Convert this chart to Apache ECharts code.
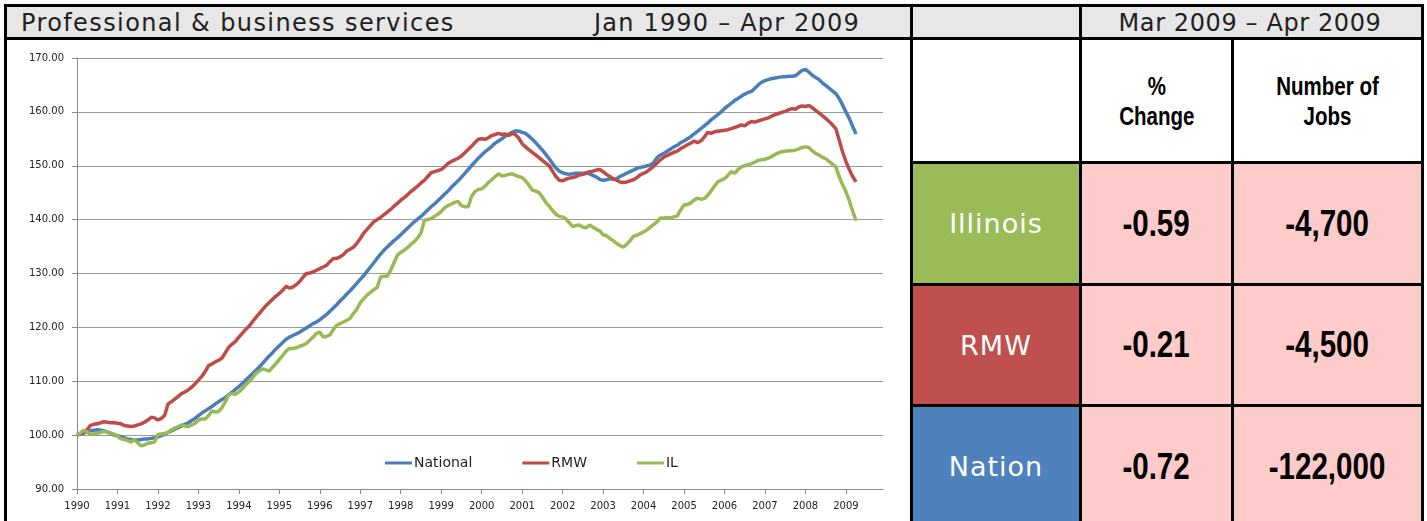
<!DOCTYPE html>
<html>
<head>
<meta charset="utf-8">
<script src="https://cdn.jsdelivr.net/npm/echarts@6/dist/echarts.min.js"></script>
<style>
  html, body { margin: 0; padding: 0; background: #fff; }
  body { width: 1427px; height: 521px; position: relative; overflow: hidden; font-family: "DejaVu Sans", Verdana, sans-serif; }
  .abs { position: absolute; box-sizing: border-box; }
  .frame { left: 4px; top: 4px; width: 1420px; height: 560px; border: 3px solid #000; }
  .hdr { background: #e7e7e7; top: 7px; height: 30px; }
  .hline { background: #000; height: 3px; }
  .vline { background: #000; width: 3px; }
  .htxt { font-size: 24px; letter-spacing: 1.4px; color: #222; line-height: 30px; top: 8px; white-space: nowrap; }
  .cell { display: flex; align-items: center; justify-content: center; text-align: center; }
  .lab { color: #fff; font-size: 27px; letter-spacing: 1px; }
  .num { font-family: "Liberation Sans Narrow", "Liberation Sans", sans-serif; font-weight: bold; font-size: 36px; color: #000; background: #fecbcb; }
  .colh { font-family: "Liberation Sans Narrow", "Liberation Sans", sans-serif; font-weight: bold; font-size: 25px; line-height: 30px; color: #000; }
  .narrow { display: inline-block; transform: scaleX(0.82); white-space: nowrap; }
  #chart { left: 7px; top: 40px; width: 903px; height: 481px; }
</style>
</head>
<body>
<div class="abs hdr" style="left:7px;width:903px"></div>
<div class="abs hdr" style="left:913px;width:508px"></div>
<div class="abs htxt" style="left:21px">Professional &amp; business services</div>
<div class="abs htxt" style="left:560px;width:300px;text-align:right;letter-spacing:1.2px">Jan 1990 – Apr 2009</div>
<div class="abs htxt" style="left:1082px;width:336px;text-align:center;letter-spacing:0.6px">Mar 2009 – Apr 2009</div>

<div class="abs cell colh" style="left:1082px;top:40px;width:149px;height:121px"><span class="narrow">%<br>Change</span></div>
<div class="abs cell colh" style="left:1234px;top:40px;width:187px;height:121px"><span class="narrow">Number of<br>Jobs</span></div>

<div class="abs cell lab" style="left:913px;top:164px;width:166px;height:119px;background:#9bbb59">Illinois</div>
<div class="abs cell num" style="left:1082px;top:164px;width:149px;height:119px"><span class="narrow">-0.59</span></div>
<div class="abs cell num" style="left:1234px;top:164px;width:187px;height:119px"><span class="narrow">-4,700</span></div>

<div class="abs cell lab" style="left:913px;top:286px;width:166px;height:118px;background:#c0504d">RMW</div>
<div class="abs cell num" style="left:1082px;top:286px;width:149px;height:118px"><span class="narrow">-0.21</span></div>
<div class="abs cell num" style="left:1234px;top:286px;width:187px;height:118px"><span class="narrow">-4,500</span></div>

<div class="abs cell lab" style="left:913px;top:407px;width:166px;height:119px;background:#4f81bd">Nation</div>
<div class="abs cell num" style="left:1082px;top:407px;width:149px;height:119px"><span class="narrow">-0.72</span></div>
<div class="abs cell num" style="left:1234px;top:407px;width:187px;height:119px"><span class="narrow">-122,000</span></div>

<div class="abs hline" style="left:4px;top:37px;width:1420px"></div>
<div class="abs hline" style="left:910px;top:161px;width:514px"></div>
<div class="abs hline" style="left:910px;top:283px;width:514px"></div>
<div class="abs hline" style="left:910px;top:404px;width:514px"></div>
<div class="abs vline" style="left:910px;top:4px;height:530px"></div>
<div class="abs vline" style="left:1079px;top:4px;height:530px"></div>
<div class="abs vline" style="left:1231px;top:37px;height:500px"></div>
<div class="abs frame"></div>

<div id="chart" class="abs"></div>

<script>
// 月度指数 1990 年 1 月 = 100,读图估计
const years = ['1990','1991','1992','1993','1994','1995','1996','1997','1998','1999',
  '2000','2001','2002','2003','2004','2005','2006','2007','2008','2009'];
const monthNames = ['Jan','Feb','Mar','Apr','May','Jun','Jul','Aug','Sep','Oct','Nov','Dec'];

const national = [
  100.0, 100.2, 100.4, 100.6, 100.8, 100.9, 101.0, 100.9, 100.8, 100.6, 100.3, 100.0,
  99.9, 99.7, 99.5, 99.3, 99.2, 99.1, 99.1, 99.2, 99.3, 99.3, 99.4, 99.5,
  99.7, 99.9, 100.2, 100.5, 100.8, 101.1, 101.4, 101.7, 102.0, 102.3, 102.7, 103.1,
  103.6, 104.1, 104.5, 104.9, 105.3, 105.8, 106.2, 106.6, 107.0, 107.5, 108.0, 108.5,
  109.0, 109.6, 110.2, 110.8, 111.4, 112.0, 112.6, 113.3, 114.0, 114.7, 115.3, 116.0,
  116.6, 117.2, 117.8, 118.2, 118.5, 118.8, 119.1, 119.5, 119.9, 120.3, 120.7, 121.0,
  121.4, 121.9, 122.4, 123.0, 123.6, 124.2, 124.9, 125.5, 126.2, 126.8, 127.5, 128.2,
  128.9, 129.6, 130.4, 131.2, 132.0, 132.8, 133.6, 134.3, 134.9, 135.5, 136.1, 136.6,
  137.2, 137.8, 138.4, 139.0, 139.6, 140.1, 140.6, 141.2, 141.8, 142.4, 142.9, 143.5,
  144.1, 144.7, 145.3, 146.0, 146.6, 147.2, 147.9, 148.6, 149.3, 150.0, 150.7, 151.4,
  152.0, 152.6, 153.1, 153.6, 154.2, 154.6, 155.0, 155.5, 155.9, 156.2, 156.5, 156.4,
  156.2, 156.0, 155.5, 154.9, 154.3, 153.6, 152.9, 152.1, 151.3, 150.4, 149.6, 149.0,
  148.7, 148.5, 148.4, 148.5, 148.6, 148.6, 148.6, 148.7, 148.5, 148.2, 147.9, 147.5,
  147.3, 147.4, 147.6, 147.5, 147.6, 148.0, 148.3, 148.6, 148.9, 149.2, 149.5, 149.7,
  149.8, 150.0, 150.1, 150.6, 151.5, 152.0, 152.3, 152.7, 153.1, 153.5, 153.8, 154.3,
  154.6, 155.0, 155.4, 155.9, 156.4, 156.9, 157.4, 157.9, 158.5, 159.0, 159.5, 160.0,
  160.6, 161.1, 161.6, 162.1, 162.5, 162.9, 163.3, 163.6, 163.8, 164.4, 165.0, 165.5,
  165.8, 166.0, 166.2, 166.3, 166.4, 166.5, 166.5, 166.6, 166.6, 166.7, 167.2, 167.7,
  167.9, 167.4, 166.8, 166.4, 166.0, 165.4, 164.9, 164.4, 163.9, 163.4, 162.5, 161.3,
  160.0, 158.8, 157.3, 155.9
];

const rmw = [
  100.0, 100.3, 100.5, 101.0, 101.8, 102.0, 102.1, 102.3, 102.5, 102.4, 102.3, 102.3,
  102.2, 102.1, 101.8, 101.7, 101.6, 101.7, 101.9, 102.1, 102.4, 102.8, 103.3, 103.2,
  102.8, 103.1, 103.7, 105.8, 106.2, 106.7, 107.2, 107.7, 108.0, 108.4, 108.9, 109.5,
  110.2, 110.9, 111.8, 112.9, 113.2, 113.6, 113.9, 114.3, 115.3, 116.3, 116.9, 117.4,
  118.2, 118.9, 119.6, 120.2, 121.0, 121.8, 122.5, 123.3, 124.0, 124.6, 125.2, 125.8,
  126.3, 126.9, 127.6, 127.3, 127.5, 127.9, 128.5, 129.3, 130.0, 130.1, 130.3, 130.6,
  130.9, 131.2, 131.5, 132.2, 132.8, 132.8, 133.1, 133.5, 134.2, 134.5, 134.9, 135.6,
  136.5, 137.5, 138.2, 138.9, 139.6, 140.0, 140.4, 140.9, 141.4, 141.9, 142.5, 143.0,
  143.6, 144.1, 144.6, 145.2, 145.7, 146.2, 146.8, 147.3, 148.0, 148.7, 148.9, 149.1,
  149.3, 149.8, 150.4, 150.8, 151.1, 151.4, 151.8, 152.4, 153.0, 153.6, 154.3, 154.9,
  155.0, 154.9, 155.2, 155.6, 155.8, 156.0, 155.8, 155.9, 155.6, 156.0, 155.8, 155.1,
  154.1, 153.5, 153.0, 152.5, 152.0, 151.5, 151.0, 150.5, 150.0, 149.0, 148.0, 147.3,
  147.2, 147.5, 147.7, 147.8, 148.0, 148.3, 148.4, 148.6, 148.9, 149.0, 149.2, 149.3,
  148.9, 148.4, 148.0, 147.6, 147.3, 147.0, 146.9, 147.0, 147.2, 147.4, 147.8, 148.3,
  148.6, 148.9, 149.4, 149.9, 150.5, 151.1, 151.6, 151.9, 152.2, 152.5, 152.7, 153.2,
  153.5, 153.9, 154.2, 154.6, 154.3, 154.6, 155.3, 156.2, 156.0, 156.3, 156.4, 156.5,
  156.6, 156.7, 156.9, 157.1, 157.3, 157.6, 157.4, 157.9, 158.2, 158.1, 158.3, 158.5,
  158.7, 158.9, 159.2, 159.5, 159.7, 159.9, 160.1, 160.4, 160.6, 160.5, 160.9, 161.1,
  161.0, 161.2, 160.8, 160.3, 159.8, 159.3, 158.8, 158.2, 157.6, 156.9, 154.8, 152.6,
  150.8, 149.3, 148.0, 147.0
];

const il = [
  100.0, 100.4, 100.9, 100.6, 100.1, 100.2, 100.3, 100.5, 100.7, 100.5, 100.4, 100.2,
  99.8, 99.3, 99.2, 99.0, 98.7, 99.2, 98.6, 98.0, 98.2, 98.5, 98.6, 98.7,
  100.1, 100.2, 100.3, 100.5, 101.0, 101.3, 101.6, 101.9, 101.7, 101.6, 101.9, 102.2,
  102.8, 103.0, 103.0, 103.6, 104.5, 104.3, 104.4, 105.1, 106.2, 107.6, 107.7, 107.6,
  108.0, 108.6, 109.3, 109.9, 110.6, 111.4, 111.9, 112.3, 112.1, 111.9, 112.6, 113.3,
  114.0, 114.8, 115.6, 116.1, 116.1, 116.2, 116.5, 116.7, 117.0, 117.6, 118.2, 118.9,
  119.1, 118.2, 118.3, 118.6, 119.6, 120.4, 120.7, 121.0, 121.3, 121.7, 122.6, 123.4,
  124.6, 125.3, 126.0, 126.5, 127.0, 127.4, 129.3, 129.5, 129.5, 130.6, 132.0, 133.4,
  133.9, 134.3, 134.8, 135.4, 135.9, 136.6, 137.5, 139.9, 140.0, 140.2, 140.6, 141.0,
  141.5, 142.2, 142.6, 142.9, 143.2, 143.4, 142.6, 142.4, 142.4, 144.3, 145.2, 145.6,
  145.7, 146.2, 146.9, 147.4, 148.0, 148.5, 148.1, 148.2, 148.4, 148.5, 148.2, 148.0,
  147.8, 147.2, 146.4, 145.5, 145.3, 145.0, 144.2, 143.2, 142.5, 141.7, 141.0, 140.6,
  140.5, 140.1, 139.4, 138.7, 138.9, 139.0, 138.6, 138.5, 139.0, 138.6, 138.2, 137.9,
  137.2, 137.0, 136.5, 136.1, 135.6, 135.2, 134.9, 135.4, 136.1, 136.9, 137.1, 137.4,
  137.7, 138.1, 138.6, 139.1, 139.6, 140.3, 140.3, 140.4, 140.3, 140.5, 140.7, 141.8,
  142.7, 142.8, 143.1, 143.6, 144.0, 143.8, 143.9, 144.5, 145.3, 146.2, 147.0, 147.3,
  147.6, 148.2, 148.9, 148.6, 149.3, 149.8, 150.0, 150.2, 150.4, 150.7, 151.0, 151.1,
  151.2, 151.4, 151.7, 152.1, 152.4, 152.6, 152.7, 152.8, 152.8, 152.9, 153.1, 153.4,
  153.5, 153.4, 152.8, 152.3, 152.0, 151.6, 151.3, 150.8, 150.3, 149.8, 148.0, 146.5,
  145.2, 143.5, 141.6, 139.8
];

// 横轴按月份,共 20 年(2009 年只到 4 月有数据)
const months = [];
years.forEach(y => monthNames.forEach(m => months.push(`${m} ${y}`)));

const chart = echarts.init(document.getElementById('chart'));
const font = '"DejaVu Sans", Verdana, sans-serif';

chart.setOption({
  animation: false,
  grid: { left: 70, right: 27, top: 18, bottom: 32, containLabel: false, outerBoundsMode: 'none' },
  legend: {
    left: 373, top: 411,
    itemWidth: 27, itemHeight: 3, itemGap: 50, icon: 'rect',
    textStyle: { fontFamily: font, fontSize: 14, color: '#222', padding: [0, 0, 0, -3] },
    data: ['National', 'RMW', 'IL']
  },
  xAxis: {
    type: 'category', data: months, boundaryGap: false,
    axisLine: { lineStyle: { color: '#8a8a8a', width: 1 } },
    axisTick: { interval: 11, length: 5, lineStyle: { color: '#8a8a8a' } },
    axisLabel: { interval: 11, fontFamily: font, fontSize: 10, color: '#222', margin: 12,
      formatter: v => v.slice(-4) },
    splitLine: { show: false }
  },
  yAxis: {
    type: 'value', min: 90, max: 170, interval: 10,
    axisLine: { show: true, lineStyle: { color: '#8a8a8a', width: 1 } },
    axisTick: { show: true, length: 5, lineStyle: { color: '#8a8a8a' } },
    axisLabel: { fontFamily: font, fontSize: 10, color: '#222', margin: 13, formatter: v => v.toFixed(2) },
    splitLine: { lineStyle: { color: '#9a9a9a', width: 1 } }
  },
  series: [
    { name: 'National', type: 'line', data: national, showSymbol: false, color: '#4a7ebb',
      lineStyle: { width: 3.5, color: '#4a7ebb' } },
    { name: 'RMW', type: 'line', data: rmw, showSymbol: false, color: '#be4b48',
      lineStyle: { width: 3.5, color: '#be4b48' } },
    { name: 'IL', type: 'line', data: il, showSymbol: false, color: '#98b954',
      lineStyle: { width: 3.5, color: '#98b954' } }
  ]
});
</script>
</body>
</html>
